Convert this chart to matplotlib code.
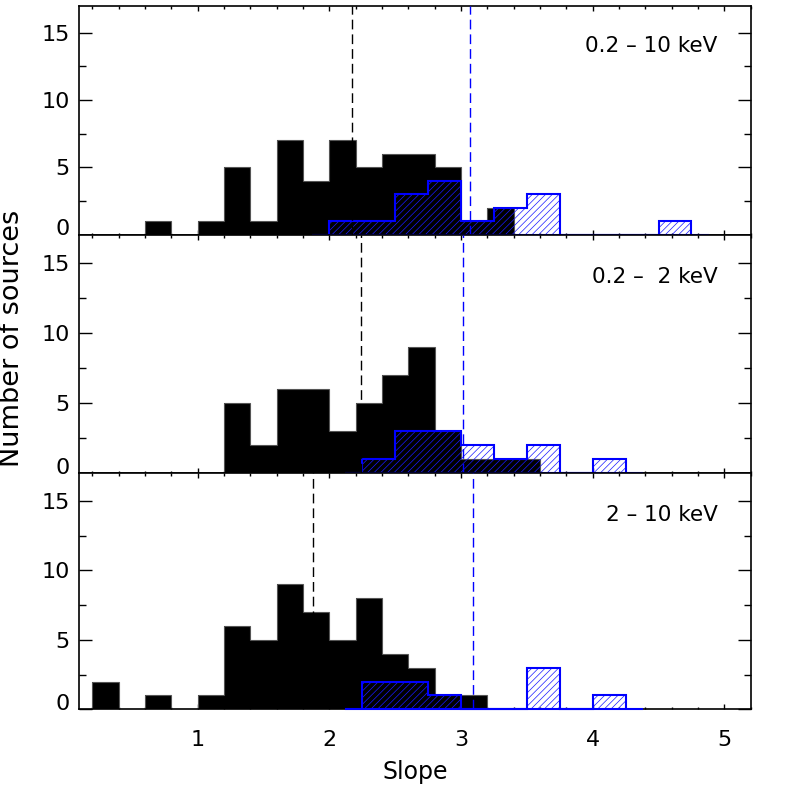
import numpy as np
import matplotlib
matplotlib.use("Agg")
import matplotlib.pyplot as plt
from matplotlib.ticker import FixedLocator, MultipleLocator
from matplotlib.transforms import ScaledTranslation

# ---------------- data ----------------
band_labels = ["0.2 \u2013 10 keV", "0.2 \u2013  2 keV", "2 \u2013 10 keV"]

# black histograms: bins of width 0.2 from 0.2 to 3.6
black_edges = np.round(np.arange(0.2, 3.6001, 0.2), 2)
black_top = [0, 0, 1, 0, 1, 5, 1, 7, 4, 7, 5, 6, 6, 5, 1, 2, 0]
black_mid = [0, 0, 0, 0, 0, 5, 2, 6, 6, 3, 5, 7, 9, 3, 1, 1, 1]
black_bot = [2, 0, 1, 0, 1, 6, 5, 9, 7, 5, 8, 4, 3, 1, 1, 0, 0]

# blue histograms: bins of width 0.25 from 2.0 to 4.75
blue_edges = np.round(np.arange(2.0, 4.7501, 0.25), 3)
blue_top = [1, 1, 3, 4, 1, 2, 3, 0, 0, 0, 1]
blue_mid = [0, 1, 3, 3, 2, 1, 2, 0, 1, 0, 0]
blue_bot = [0, 2, 2, 1, 0, 0, 3, 0, 1, 0, 0]

# median / reference slopes (dashed lines)
black_median = [2.17, 2.24, 1.875]
blue_median = [3.065, 3.015, 3.09]

x_ticks = [1, 2, 3, 4, 5]
y_ticks = [0, 5, 10, 15]

blacks = [black_top, black_mid, black_bot]
blues = [blue_top, blue_mid, blue_bot]

# ---------------- figure ----------------
plt.rcParams["font.family"] = ["DejaVu Sans"]
plt.rcParams["hatch.linewidth"] = 0.5

W = 789.0
fig = plt.figure(figsize=(7.89, 7.89), dpi=100)

# panel pixel extents (top, bottom) in the reference
left_px, right_px = 79.3, 750.7
panel_px = [(5.7, 234.7), (234.7, 473.0), (473.0, 709.3)]

axes = []
for (t, b) in panel_px:
    ax = fig.add_axes([left_px / W, 1 - b / W, (right_px - left_px) / W, (b - t) / W])
    axes.append(ax)

for i, ax in enumerate(axes):
    bv = np.array(blacks[i], dtype=float)
    centers = 0.5 * (black_edges[:-1] + black_edges[1:])
    ax.bar(centers, bv, width=0.2, color="black", linewidth=0, zorder=2)
    ax.stairs(bv, black_edges, color="#555555", linewidth=0.8, zorder=2.1)

    uv = np.array(blues[i], dtype=float)
    bc = 0.5 * (blue_edges[:-1] + blue_edges[1:])
    ax.bar(bc, uv, width=0.25, facecolor="none", edgecolor="#1a1aff",
           linewidth=0, hatch="/////", zorder=3)
    nz = np.nonzero(uv)[0]
    i0, i1 = nz[0], nz[-1]
    ax.stairs(uv[i0:i1 + 1], blue_edges[i0:i1 + 2], color="blue",
              linewidth=1.5, baseline=0, zorder=4, clip_on=False)
    half = 0.5 * (blue_edges[1] - blue_edges[0])
    ax.plot([blue_edges[i0] - half, blue_edges[i1 + 1] + half], [0, 0],
            color="blue", linewidth=1.5, zorder=4, clip_on=False)

    ax.axvline(black_median[i], color="black", linewidth=1.0,
               dashes=(7, 3.6), zorder=5)
    ax.axvline(blue_median[i], color="blue", linewidth=1.0,
               dashes=(7, 3.6), zorder=5)

    ax.set_xlim(0.1, 5.2)
    ax.set_ylim(0, 17)
    ax.xaxis.set_major_locator(FixedLocator(x_ticks))
    ax.xaxis.set_minor_locator(MultipleLocator(0.2))
    ax.yaxis.set_major_locator(FixedLocator(y_ticks))
    ax.yaxis.set_minor_locator(MultipleLocator(2.5))
    ax.tick_params(axis="both", which="both", direction="in",
                   top=True, right=True, width=1.0, colors="black")
    ax.tick_params(axis="x", which="major", length=3.4, pad=15, labelsize=16)
    ax.tick_params(axis="x", which="minor", length=1.8)
    ax.tick_params(axis="y", which="major", length=9.6, pad=7, labelsize=16)
    ax.tick_params(axis="y", which="minor", length=4.8)
    for s in ax.spines.values():
        s.set_linewidth(1.2)
        s.set_zorder(3.5)
    if i < 2:
        ax.tick_params(axis="x", labelbottom=False)

    ax.text(4.95, 14.0, band_labels[i], ha="right", va="center",
            fontsize=15.5, zorder=6)

    # IDL places the '0' label a little above the axis
    fig.canvas.draw()
    lab0 = ax.yaxis.get_major_ticks()[0].label1
    lab0.set_transform(lab0.get_transform() +
                       ScaledTranslation(0, 0.075, fig.dpi_scale_trans))

axes[2].set_xlabel("Slope", fontsize=17)
axes[2].xaxis.set_label_coords(0.5, -(771.5 - 709.3) / (709.3 - 473.0))
axes[2].xaxis.label.set_va("center")

axes[1].set_ylabel("Number of sources", fontsize=19.5)
axes[1].yaxis.set_label_coords((12 - left_px) / (right_px - left_px), 0.566)
axes[1].yaxis.label.set_va("center")

fig.savefig("out.png", dpi=100)
